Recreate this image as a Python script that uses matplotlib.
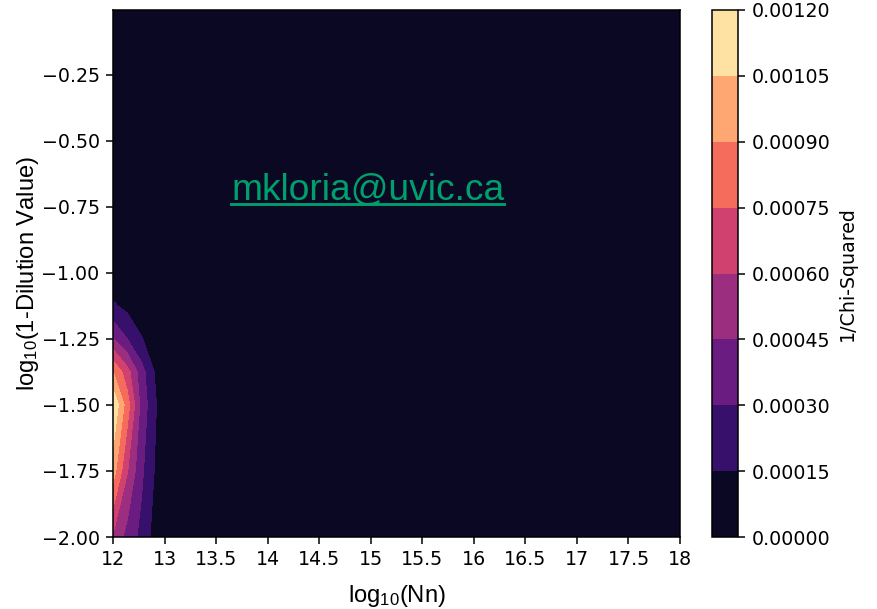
import matplotlib
matplotlib.use("Agg")
import matplotlib.pyplot as plt
import numpy as np
from matplotlib.lines import Line2D

# grid: log10(Nn) columns, log10(1 - dilution) rows
log_nn = [12.0, 12.15, 12.3, 12.45, 12.6, 13.0, 14.0, 15.0, 16.0, 17.0, 18.0]
log_dil = [-2.0, -1.75, -1.5, -1.375, -1.25, -1.125, -1.0, -0.75, -0.5, -0.25, -0.0044]

# 1/chi-squared, one row per log_dil value
inv_chi2 = [
    [0.00058, 0.000395, 0.000257, 0.000082, 0.00001, 0.000004, 0.000002, 0.000001, 0.000001, 0.000001, 0.000001],
    [0.00097, 0.00061, 0.00033, 0.00013, 0.00001, 0.000004, 0.000002, 0.000001, 0.000001, 0.000001, 0.000001],
    [0.00119, 0.00082, 0.00040, 0.00016, 0.00002, 0.000005, 0.000002, 0.000001, 0.000001, 0.000001, 0.000001],
    [0.00090, 0.00066, 0.00036, 0.00013, 0.00001, 0.000004, 0.000002, 0.000001, 0.000001, 0.000001, 0.000001],
    [0.00046, 0.00030, 0.00016, 0.00005, 0.000005, 0.000003, 0.000002, 0.000001, 0.000001, 0.000001, 0.000001],
    [0.00017, 0.00011, 0.00005, 0.00002, 0.000003, 0.000002, 0.000001, 0.000001, 0.000001, 0.000001, 0.000001],
    [0.00005, 0.00003, 0.00001, 0.000005, 0.000002, 0.000001, 0.000001, 0.000001, 0.000001, 0.000001, 0.000001],
    [0.00001, 0.000008, 0.000004, 0.000002, 0.000001, 0.000001, 0.000001, 0.000001, 0.000001, 0.000001, 0.000001],
    [0.000004, 0.000003, 0.000002, 0.000001, 0.000001, 0.000001, 0.000001, 0.000001, 0.000001, 0.000001, 0.000001],
    [0.000002, 0.000002, 0.000001, 0.000001, 0.000001, 0.000001, 0.000001, 0.000001, 0.000001, 0.000001, 0.000001],
    [0.000001, 0.000001, 0.000001, 0.000001, 0.000001, 0.000001, 0.000001, 0.000001, 0.000001, 0.000001, 0.000001],
]

levels = [0.0, 0.00015, 0.0003, 0.00045, 0.0006, 0.00075, 0.0009, 0.00105, 0.0012]
xtick_labels = ["12", "13", "13.5", "14", "14.5", "15", "15.5", "16", "16.5", "17", "17.5", "18"]

plt.rcParams["mathtext.default"] = "regular"

dpi = 137
fig = plt.figure(figsize=(877 / dpi, 609 / dpi), dpi=dpi)
ax = fig.add_axes([0.1289, 0.1182, 0.6465, 0.8654])
cax = fig.add_axes([0.8119, 0.1182, 0.0296, 0.8654])

X, Y = np.meshgrid(log_nn, log_dil)
cs = ax.contourf(X, Y, np.array(inv_chi2), levels=levels, cmap="magma")

ax.set_xlim(12, 18)
ax.set_ylim(-2.0, -0.0044)
ax.set_xticks(np.linspace(12, 18, len(xtick_labels)))
ax.set_xticklabels(xtick_labels)

label_font = dict(family="Liberation Sans", size=12.5)
ax.set_xlabel("log$_{10}$(Nn)", fontdict=label_font, labelpad=7)
ax.set_ylabel("log$_{10}$(1-Dilution Value)", fontdict=label_font, labelpad=0)

cbar = fig.colorbar(cs, cax=cax)
cbar.set_ticks(levels)
cbar.set_ticklabels(["%.5f" % v for v in levels])
cbar.set_label("1/Chi-Squared")

# email watermark, underlined like a link
txt = ax.text(0.449, 0.6395, "mkloria@uvic.ca", transform=ax.transAxes,
              ha="center", va="baseline", color="#00a06c",
              family="Liberation Sans", fontsize=19.5)
fig.canvas.draw()
bb = txt.get_window_extent(fig.canvas.get_renderer())
inv = fig.transFigure.inverted()
x0, y0 = inv.transform((bb.x0, 609 - 204))
x1, _ = inv.transform((bb.x1, 609 - 204))
fig.add_artist(Line2D([x0, x1], [y0, y0], transform=fig.transFigure,
                      color="#00a06c", linewidth=1.5))

fig.savefig("out.png", dpi=dpi)
